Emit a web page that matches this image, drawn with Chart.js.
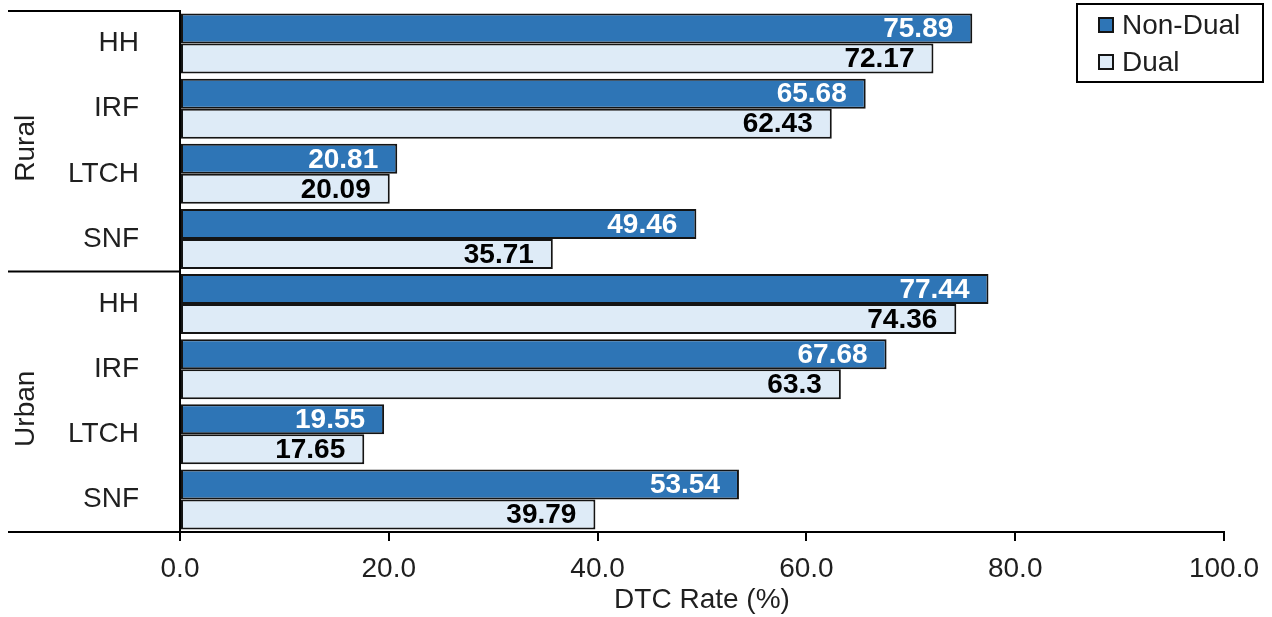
<!DOCTYPE html>
<html>
<head>
<meta charset="utf-8">
<script src="https://cdn.jsdelivr.net/npm/chart.js@4.4.1/dist/chart.umd.min.js"></script>
<style>
  html, body { margin: 0; padding: 0; background: #ffffff; }
  #wrap { width: 1272px; height: 617px; position: relative; }
</style>
</head>
<body>
<div id="wrap"><canvas id="chart" width="1272" height="617"></canvas></div>
<script>
// Facility types, listed once per rurality group
const categories = ['HH', 'IRF', 'LTCH', 'SNF', 'HH', 'IRF', 'LTCH', 'SNF'];
const groups = ['Rural', 'Urban'];
const groupSize = 4;

// DTC rates (%) by beneficiary status
const nonDual = [75.89, 65.68, 20.81, 49.46, 77.44, 67.68, 19.55, 53.54];
const dual    = [72.17, 62.43, 20.09, 35.71, 74.36, 63.3, 17.65, 39.79];

// Axis settings
const xMin = 0, xMax = 100, xStep = 20;
const xTitle = 'DTC Rate (%)';
const seriesNames = ['Non-Dual', 'Dual'];

const FONT = "'Liberation Sans', Arial, sans-serif";
const INK = '#1f1f1f';
const BLUE = '#2E75B6';
const PALE = '#DEEBF7';
const EDGE = '#141414';

// Group dividers, rotated group names, bar value labels and legend box
const decorations = {
  id: 'decorations',
  afterDatasetsDraw(chart) {
    const ctx = chart.ctx;
    const area = chart.chartArea;
    const y = chart.scales.y;
    ctx.save();

    // value labels at the inner end of each bar
    ctx.font = 'bold 28px ' + FONT;
    ctx.textAlign = 'right';
    ctx.textBaseline = 'middle';
    chart.data.datasets.forEach((ds, di) => {
      const meta = chart.getDatasetMeta(di);
      ctx.fillStyle = di === 0 ? '#ffffff' : '#000000';
      meta.data.forEach((bar, i) => {
        ctx.fillText(String(ds.data[i]), bar.x - 19, bar.y + 1);
      });
    });

    // horizontal dividers left of the plot
    const bounds = [area.top];
    for (let g = 1; g < groups.length; g++) {
      const a = y.getPixelForValue(g * groupSize - 1);
      const b = y.getPixelForValue(g * groupSize);
      bounds.push((a + b) / 2);
    }
    bounds.push(area.bottom);
    ctx.strokeStyle = '#000000';
    ctx.lineWidth = 2;
    bounds.forEach(py => {
      ctx.beginPath();
      ctx.moveTo(8, py);
      ctx.lineTo(area.left, py);
      ctx.stroke();
    });

    // rotated group names
    ctx.font = '28px ' + FONT;
    ctx.fillStyle = INK;
    ctx.textAlign = 'center';
    ctx.textBaseline = 'middle';
    groups.forEach((name, g) => {
      const cy = (bounds[g] + bounds[g + 1]) / 2 + 7;
      ctx.save();
      ctx.translate(26, cy);
      ctx.rotate(-Math.PI / 2);
      ctx.fillText(name, 0, 0);
      ctx.restore();
    });

    // legend
    const lx = 1077, ly = 4, lw = 186, lh = 78;
    ctx.fillStyle = '#ffffff';
    ctx.fillRect(lx, ly, lw, lh);
    ctx.strokeStyle = '#000000';
    ctx.lineWidth = 2;
    ctx.strokeRect(lx, ly, lw, lh);
    const fills = [BLUE, PALE];
    const rows = [25, 62];
    ctx.font = '28px ' + FONT;
    ctx.textAlign = 'left';
    seriesNames.forEach((name, i) => {
      ctx.fillStyle = fills[i];
      ctx.fillRect(1099, rows[i] - 7, 14, 14);
      ctx.strokeStyle = EDGE;
      ctx.lineWidth = 2;
      ctx.strokeRect(1099, rows[i] - 7, 14, 14);
      ctx.fillStyle = INK;
      ctx.fillText(name, 1122, rows[i] + 1);
    });
    ctx.restore();
  }
};

new Chart(document.getElementById('chart'), {
  type: 'bar',
  data: {
    labels: categories,
    datasets: [
      { label: seriesNames[0], data: nonDual, backgroundColor: BLUE, borderColor: EDGE, borderWidth: 2, borderSkipped: false },
      { label: seriesNames[1], data: dual, backgroundColor: PALE, borderColor: EDGE, borderWidth: 2, borderSkipped: false }
    ]
  },
  options: {
    indexAxis: 'y',
    responsive: false,
    animation: false,
    events: [],
    categoryPercentage: 0.92,
    barPercentage: 1.0,
    layout: { padding: { left: 8, right: 48, top: 11, bottom: 0 } },
    plugins: {
      legend: { display: false },
      tooltip: { enabled: false }
    },
    scales: {
      x: {
        type: 'linear',
        min: xMin,
        max: xMax,
        ticks: {
          stepSize: xStep,
          callback: v => Number(v).toFixed(1),
          font: { family: FONT, size: 28 },
          color: INK,
          padding: 11,
          maxRotation: 0
        },
        grid: { drawOnChartArea: false, drawTicks: true, tickLength: 9, color: '#000000', lineWidth: 2 },
        border: { display: true, color: '#000000', width: 2 },
        title: {
          display: true,
          text: xTitle,
          font: { family: FONT, size: 28 },
          color: INK,
          padding: { top: 0, bottom: 0 }
        },
        afterFit: scale => { scale.height = 85; }
      },
      y: {
        ticks: {
          font: { family: FONT, size: 28 },
          color: INK,
          padding: 33
        },
        grid: { display: false },
        border: { display: true, color: '#000000', width: 2 },
        afterFit: scale => {
          scale.width = 172;
          scale.paddingTop = 0;
          scale.paddingBottom = 0;
        }
      }
    }
  },
  plugins: [decorations]
});
</script>
</body>
</html>
